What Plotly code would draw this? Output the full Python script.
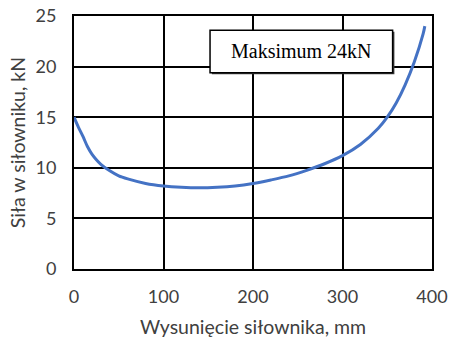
import plotly.graph_objects as go

extension_mm = [0, 5, 10, 15, 20, 25, 30, 40, 50, 60, 80, 100, 120, 140, 160, 180, 200, 220, 240,
                260, 280, 300, 320, 340, 350, 360, 370, 380, 390, 392]
force_kN = [15.0, 14.0, 13.1, 12.1, 11.35, 10.8, 10.35, 9.7, 9.2, 8.9, 8.45, 8.2, 8.07, 8.02,
            8.07, 8.2, 8.45, 8.8, 9.2, 9.75, 10.4, 11.2, 12.3, 13.9, 15.0, 16.4, 18.2, 20.4, 23.2, 24.0]
x_ticks = [0, 100, 200, 300, 400]
y_ticks = [0, 5, 10, 15, 20, 25]
label_text = "Maksimum 24kN"

fig = go.Figure()
fig.add_trace(go.Scatter(x=extension_mm, y=force_kN, mode="lines",
                         line=dict(color="#4472C4", width=3, shape="spline", smoothing=0.8),
                         hoverinfo="skip", showlegend=False))

# box shadow + box
fig.add_shape(type="rect", xref="x", yref="y", x0=154, x1=358, y0=19.25, y1=23.45,
              line=dict(width=0), fillcolor="#404040", layer="above")
fig.add_shape(type="rect", xref="x", yref="y", x0=152, x1=356, y0=19.4, y1=23.6,
              line=dict(color="black", width=1.5), fillcolor="white", layer="above")
fig.add_annotation(x=254, y=21.5, xref="x", yref="y", text=label_text, showarrow=False,
                   font=dict(family="Liberation Serif", size=20, color="black"))

tfont = dict(family="Lato", size=18, color="#404040")
titlefont = dict(family="Lato", size=19.5, color="#404040")
axis_common = dict(showgrid=True, gridcolor="black", gridwidth=2, zeroline=False,
                   showline=True, linecolor="black", linewidth=2, mirror=True, ticks="",
                   tickfont=tfont, automargin=False, ticklabeloverflow="allow")
fig.update_xaxes(range=[0, 400], tickvals=x_ticks, ticklabelstandoff=10, **axis_common,
                 title=dict(text="Wysunięcie siłownika, mm", standoff=16, font=titlefont))
fig.update_yaxes(range=[0, 25], tickvals=y_ticks, ticklabelstandoff=12, **axis_common,
                 title=dict(text="Siła w siłowniku, kN", standoff=5, font=titlefont))
fig.update_layout(width=449, height=338, margin=dict(l=74, r=17, t=16, b=69),
                  plot_bgcolor="white", paper_bgcolor="white")
fig.write_html("out.html", config={"displayModeBar": False},
               post_script="document.body.style.margin='0';")
